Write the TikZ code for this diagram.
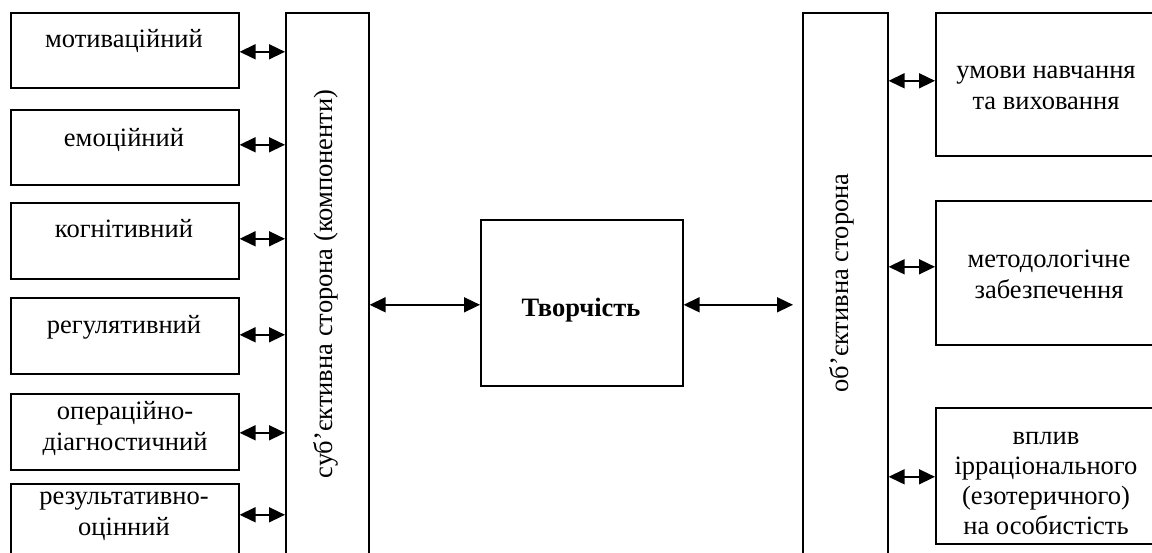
\documentclass[tikz,border=0pt]{standalone}
\usepackage{fontspec}
\setmainfont{Liberation Serif}
\usetikzlibrary{arrows.meta,calc}
\begin{document}
\begin{tikzpicture}[x=1pt,y=-1pt,
  box/.style={draw, line width=1.6pt, inner sep=0pt, anchor=north west},
  lbl/.style={font=\fontsize{26.5}{31}\selectfont, align=center, inner sep=0pt},
  arr/.style={{Triangle[length=16pt,width=15pt]}-{Triangle[length=16pt,width=15pt]}, line width=1.6pt}]
\useasboundingbox (0,0) rectangle (1152,553);
\clip (0,0) rectangle (1152,553);
% left component boxes
\node[box, minimum width=228pt, minimum height=75pt] (m1) at (10,12) {};
\node[box, minimum width=228pt, minimum height=75pt] (m2) at (10,109) {};
\node[box, minimum width=228pt, minimum height=76pt] (m3) at (10,202) {};
\node[box, minimum width=228pt, minimum height=76pt] (m4) at (10,297) {};
\node[box, minimum width=228pt, minimum height=76pt] (m5) at (10,393) {};
\node[box, minimum width=228pt, minimum height=80pt] (m6) at (10,483) {};
% vertical bars
\node[box, minimum width=83pt, minimum height=550pt] (subj) at (285,12) {};
\node[box, minimum width=85pt, minimum height=550pt] (obj) at (802,12) {};
% centre
\node[box, minimum width=202pt, minimum height=166pt] (cb) at (480,219) {};
% right boxes
\node[box, minimum width=222pt, minimum height=143pt] (r1) at (935,12) {};
\node[box, minimum width=222pt, minimum height=144pt] (r2) at (935,200) {};
\node[box, minimum width=222pt, minimum height=136pt] (r3) at (935,407) {};
% texts
\node[lbl, anchor=base] (m1t) at (124,48) {мотиваційний};
\node[lbl, anchor=base] (m2t) at (124,147) {емоційний};
\node[lbl, anchor=base] (m3t) at (124,238) {когнітивний};
\node[lbl, anchor=base] (m4t) at (124,334) {регулятивний};
\node[lbl] (m5t) at (125,428) {операційно-\\діагностичний};
\node[lbl] (m6t) at (124,516) {результативно-\\оцінний};
\node[lbl, anchor=base, font=\fontsize{26.5}{31}\selectfont\bfseries] (cbt) at (581,317) {Творчість};
\node[lbl, anchor=base, rotate=90] (subjt) at (332,284) {суб’єктивна сторона (компоненти)};
\node[lbl, anchor=base, rotate=90] (objt) at (848,283) {об’єктивна сторона};
\node[lbl] (r1t) at (1046,88) {умови навчання\\та виховання};
\node[lbl] (r2t) at (1049,274) {методологічне\\забезпечення};
\node[lbl, font=\fontsize{26.5}{30}\selectfont] (r3t) at (1046,484) {вплив\\ірраціонального\\(езотеричного)\\на особистість};
% arrows left
\draw[arr] ($(m1.east)+(0,1.5)$) -- ($(m1.east -| subj.west)+(0,1.5)$);
\draw[arr] ($(m2.east)+(0,-2.5)$) -- ($(m2.east -| subj.west)+(0,-2.5)$);
\draw[arr] ($(m3.east)+(0,-2)$) -- ($(m3.east -| subj.west)+(0,-2)$);
\draw[arr] ($(m4.east)+(0,-1)$) -- ($(m4.east -| subj.west)+(0,-1)$);
\draw[arr] ($(m5.east)+(0,1)$) -- ($(m5.east -| subj.west)+(0,1)$);
\draw[arr] ($(m6.east)+(0,-9)$) -- ($(m6.east -| subj.west)+(0,-9)$);
% centre arrows
\draw[arr] ($(cb.west -| subj.east)+(0,2)$) -- ($(cb.west)+(0,2)$);
\draw[arr, shorten >=9pt] ($(cb.east)+(0,2)$) -- ($(cb.east -| obj.west)+(0,2)$);
% right arrows
\draw[arr] ($(r1.west -| obj.east)+(0,-3.5)$) -- ($(r1.west)+(0,-3.5)$);
\draw[arr] ($(r2.west -| obj.east)+(0,-6)$) -- ($(r2.west)+(0,-6)$);
\draw[arr] ($(r3.west -| obj.east)+(0,1)$) -- ($(r3.west)+(0,1)$);
\end{tikzpicture}
\end{document}
